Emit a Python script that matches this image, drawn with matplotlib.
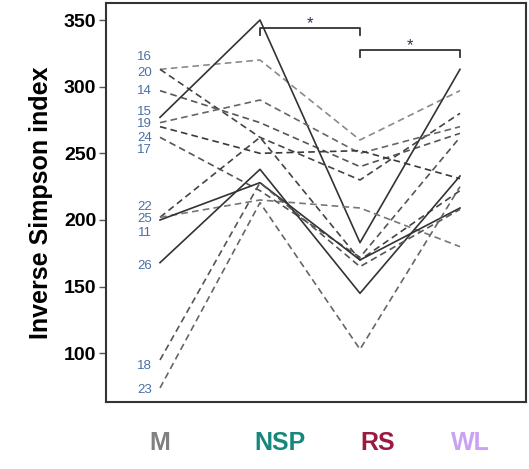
import matplotlib
matplotlib.use('Agg')
import matplotlib.pyplot as plt

# subjects and Inverse Simpson values per timepoint (M, NSP, RS, WL)
groups = ['M', 'NSP', 'RS', 'WL']
subjects = ['16', '20', '14', '15', '19', '24', '17', '22', '25', '11', '26', '18', '23']
val_M = [313, 313, 297, 277, 273, 270, 262, 202, 202, 200, 168, 95, 74]
val_NSP = [320, 262, 273, 350, 290, 250, 222, 262, 215, 228, 238, 228, 213]
val_RS = [260, 230, 240, 183, 250, 252, 172, 170, 209, 170, 145, 165, 103]
val_WL = [297, 280, 265, 313, 270, 231, 262, 222, 180, 209, 233, 208, 225]
solid = ['15', '11', '26']

plt.rcParams['font.family'] = ['Liberation Sans', 'DejaVu Sans']

fig = plt.figure(figsize=(5.29, 4.69), dpi=100)
ax = fig.add_axes([0.2004, 0.1429, 0.7939, 0.8507])

grays = ['#8a8a8a', '#444444', '#555555', '#333333', '#666666', '#3a3a3a',
         '#555555', '#444444', '#777777', '#333333', '#333333', '#555555', '#666666']
for i, s in enumerate(subjects):
    ys = [val_M[i], val_NSP[i], val_RS[i], val_WL[i]]
    if s in solid:
        ax.plot(range(4), ys, color='#333333', lw=1.2, ls='-')
    else:
        ax.plot(range(4), ys, color=grays[i], lw=1.2, ls=(0, (4, 2.5)))

# subject labels at the left of the M column
label_pos = [322, 310, 297, 281, 272, 261.5, 252.5, 209.7, 200.7, 190, 165.5, 90.5, 72.5]
for s, y in zip(subjects, label_pos):
    ax.text(-0.08, y, s, ha='right', va='center', fontsize=9.5, color='#4a6fa5')

# significance brackets
ax.plot([1, 1, 2, 2], [339, 344, 344, 339], color='#333333', lw=1.3)
ax.text(1.5, 347, '*', ha='center', va='center', fontsize=12, color='#2b3050')
ax.plot([2, 2, 3, 3], [322, 327.5, 327.5, 322], color='#333333', lw=1.3)
ax.text(2.5, 331, '*', ha='center', va='center', fontsize=12, color='#2b3050')

ax.set_xlim(-0.54, 3.66)
ax.set_ylim(63.5, 362.75)
ax.set_xticks([])
ax.set_yticks([100, 150, 200, 250, 300, 350])
ax.tick_params(axis='y', length=5, width=1, color='#555555', labelsize=14, pad=2)
for lbl in ax.get_yticklabels():
    lbl.set_fontweight('bold')
for sp in ax.spines.values():
    sp.set_linewidth(1.5)
    sp.set_color('#333333')
ax.set_ylabel('Inverse Simpson index', fontsize=18, fontweight='bold', labelpad=8)

# coloured category labels below the axes
group_colors = ['#808080', '#17877d', '#9a1a40', '#c9a3f2']
group_x = [160, 280, 378, 470]
for g, c, x in zip(groups, group_colors, group_x):
    fig.text(x / 529, 1 - 443 / 469, g, ha='center', va='center',
             fontsize=18, fontweight='bold', color=c)

fig.savefig('out.png', dpi=100)
